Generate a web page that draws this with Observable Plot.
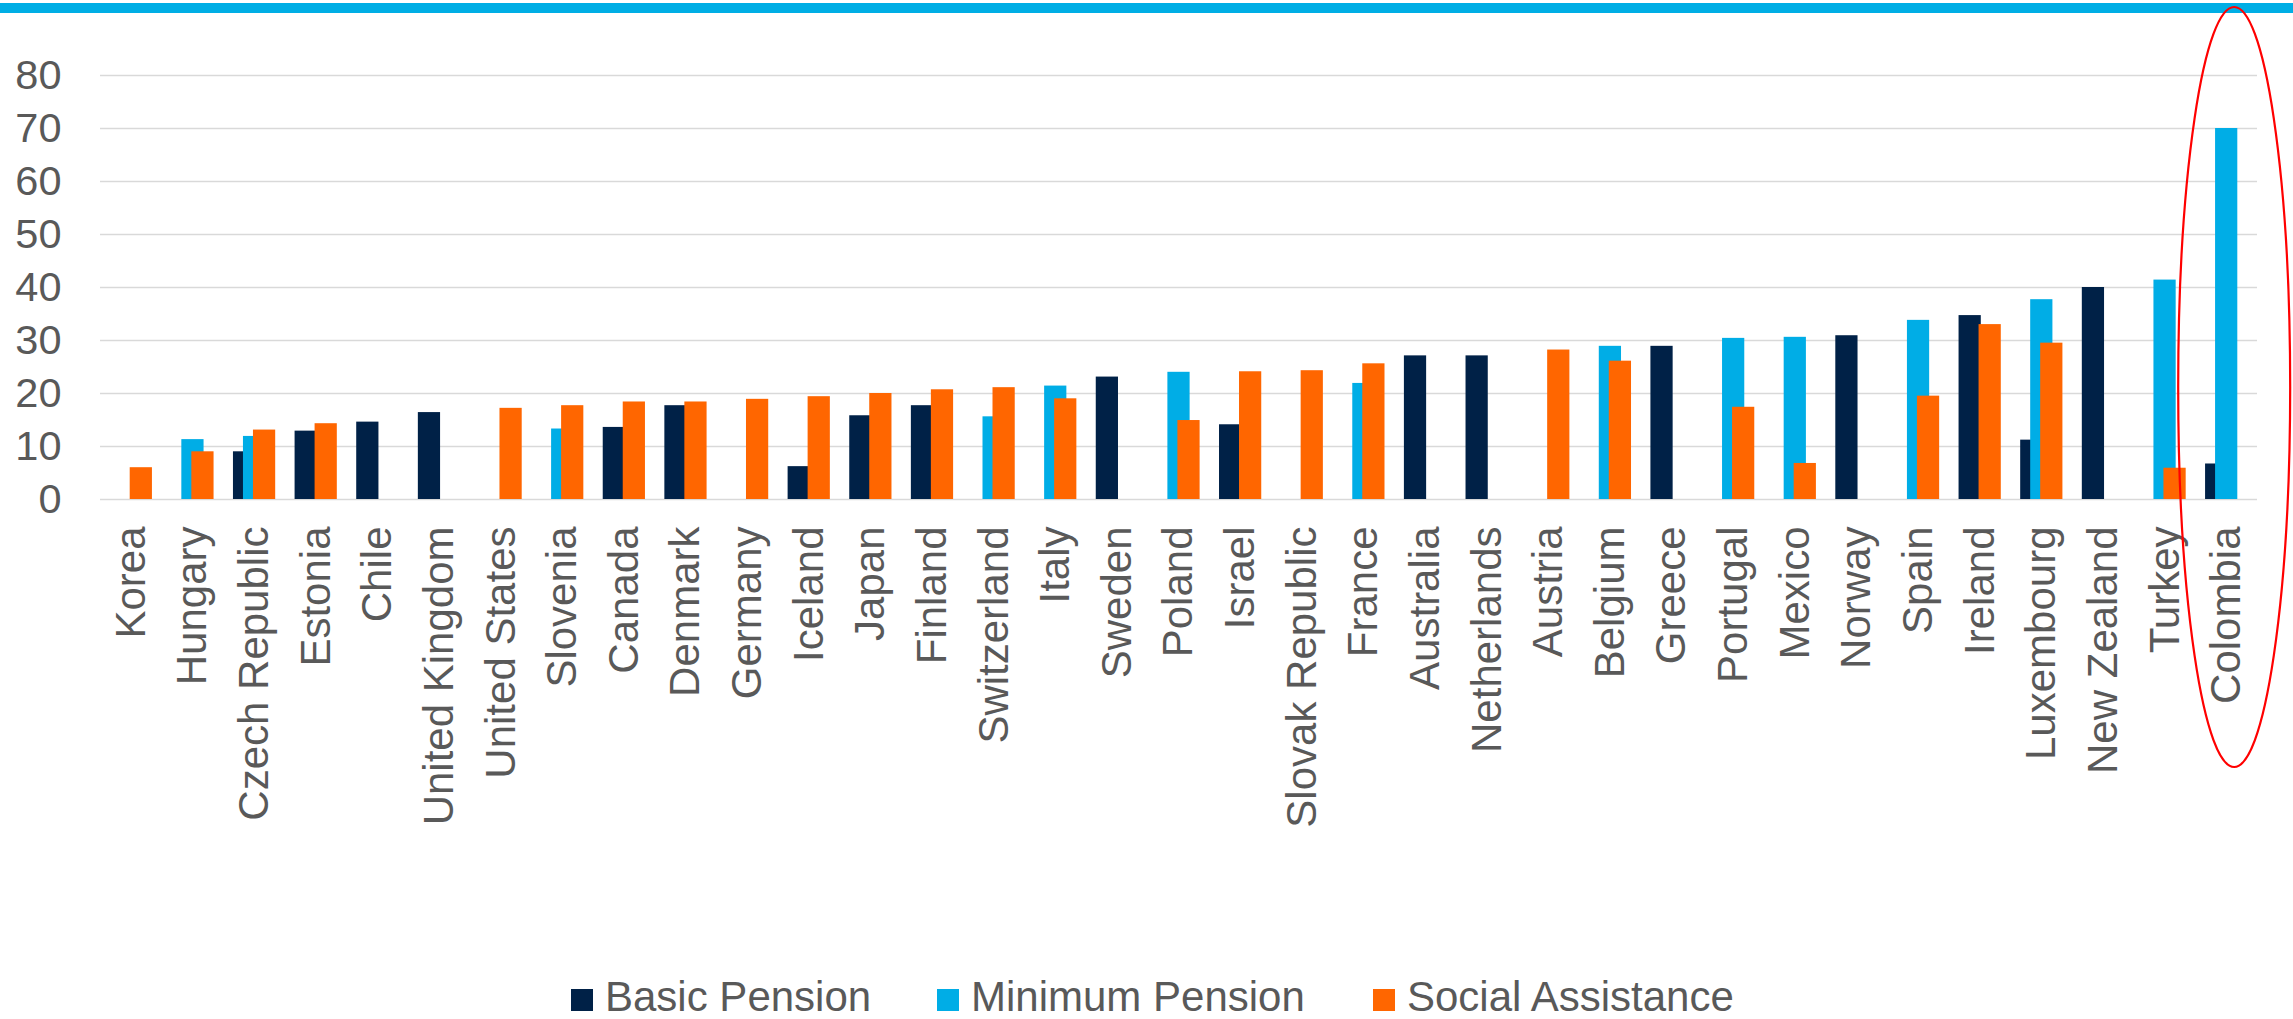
<!DOCTYPE html>
<html>
<head>
<meta charset="utf-8">
<script src="https://cdn.jsdelivr.net/npm/d3@7"></script>
<script src="https://cdn.jsdelivr.net/npm/@observablehq/plot@0.6"></script>
<style>
  html, body { margin: 0; padding: 0; background: #ffffff; }
  body { width: 2293px; height: 1019px; position: relative; overflow: hidden; font-family: "Liberation Sans", Arial, sans-serif; }
  #stripe { position: absolute; left: 0; top: 3px; width: 2293px; height: 10px; background: #00AEE5; z-index: 0; }
  #chart { position: relative; z-index: 1; }
  #chart svg { display: block; }
  #legend { position: relative; z-index: 1; height: 46px; line-height: 46px; font-size: 42px; color: #595959; white-space: nowrap; }
  #legend .item { position: absolute; top: 0; }
  #legend .sw { display: inline-block; width: 22px; height: 22px; margin-right: 12px; vertical-align: baseline; }
</style>
</head>
<body>
<div id="stripe"></div>
<div id="chart"></div>
<div id="legend"></div>
<script>
const countries = ["Korea","Hungary","Czech Republic","Estonia","Chile","United Kingdom","United States","Slovenia","Canada","Denmark","Germany","Iceland","Japan","Finland","Switzerland","Italy","Sweden","Poland","Israel","Slovak Republic","France","Australia","Netherlands","Austria","Belgium","Greece","Portugal","Mexico","Norway","Spain","Ireland","Luxembourg","New Zealand","Turkey","Colombia"];

const basicPension = [null,null,9.0,12.9,14.6,16.4,null,null,13.6,17.7,null,6.2,15.8,17.7,null,null,23.1,null,14.1,null,null,27.1,27.1,null,null,28.9,null,null,30.9,null,34.7,11.2,40.0,null,6.7];

const minimumPension = [null,11.3,11.9,null,null,null,null,13.3,null,null,null,null,null,null,15.6,21.4,null,24.0,null,null,21.9,null,null,null,28.9,null,30.4,30.6,null,33.8,null,37.7,null,41.4,70.0];

const socialAssistance = [6.0,9.0,13.1,14.3,null,null,17.2,17.7,18.4,18.4,18.9,19.4,20.0,20.7,21.1,19.0,null,14.9,24.1,24.3,25.6,null,null,28.2,26.1,null,17.4,6.8,null,19.5,33.0,29.5,null,5.9,null];

const seriesNames = ["Basic Pension","Minimum Pension","Social Assistance"];
const seriesColors = ["#002147","#00ADE6","#FF6600"];
const yTicks = [0,10,20,30,40,50,60,70,80];

const rows = (vals) => countries.map((c, i) => ({country: c, value: vals[i]})).filter(d => d.value != null);
const seriesValues = [basicPension, minimumPension, socialAssistance];
const offsets = [-10, 0, 10];

const W = 2293, H = 974;
const hasAxisMarks = typeof Plot.axisX === "function";

const axisMarks = hasAxisMarks ? [
  Plot.axisY({ticks: yTicks, tickSize: 0, tickPadding: 39, fontSize: 41.5, label: null}),
  Plot.axisX({tickSize: 0, tickPadding: 27, tickRotate: -90, fontSize: 42, label: null})
] : [];

const plot = Plot.plot({
  width: W,
  height: H,
  marginLeft: 100,
  marginRight: 36,
  marginTop: 75,
  marginBottom: H - 499,
  style: {background: "transparent", fontFamily: "'Liberation Sans', Arial, sans-serif", fontSize: "42px", color: "#595959", overflow: "visible"},
  x: {domain: countries, padding: 0, round: false, label: null, tickSize: 0, tickRotate: -90, tickPadding: 27, ...(hasAxisMarks ? {axis: null} : {})},
  y: {domain: [0, 80], ticks: yTicks, label: null, tickSize: 0, tickPadding: 39, ...(hasAxisMarks ? {axis: null} : {})},
  marks: [
    Plot.ruleY(yTicks, {stroke: "#D9D9D9", strokeWidth: 1.6}),
    ...seriesValues.map((vals, i) => Plot.barY(rows(vals), {
      x: "country", y: "value", fill: seriesColors[i],
      insetLeft: 19.7, insetRight: 19.7, dx: offsets[i]
    })),
    ...axisMarks
  ]
});

// red ellipse annotation around Colombia
const xs = plot.scale("x"), ys = plot.scale("y");
const cx = xs.apply("Colombia") + xs.bandwidth / 2 + 8;
const cy = (ys.apply(80) + ys.apply(0)) / 2 + 100;
const ell = document.createElementNS("http://www.w3.org/2000/svg", "ellipse");
ell.setAttribute("cx", cx);
ell.setAttribute("cy", cy);
ell.setAttribute("rx", 56);
ell.setAttribute("ry", 380);
ell.setAttribute("fill", "none");
ell.setAttribute("stroke", "#FF0000");
ell.setAttribute("stroke-width", 2.2);
plot.appendChild(ell);

document.getElementById("chart").appendChild(plot);

const legend = document.getElementById("legend");
const legendLefts = [571, 937, 1373];
seriesNames.forEach((name, i) => {
  const item = document.createElement("span");
  item.className = "item";
  item.style.left = legendLefts[i] + "px";
  const sw = document.createElement("span");
  sw.className = "sw";
  sw.style.background = seriesColors[i];
  item.appendChild(sw);
  item.appendChild(document.createTextNode(name));
  legend.appendChild(item);
});
</script>
</body>
</html>
